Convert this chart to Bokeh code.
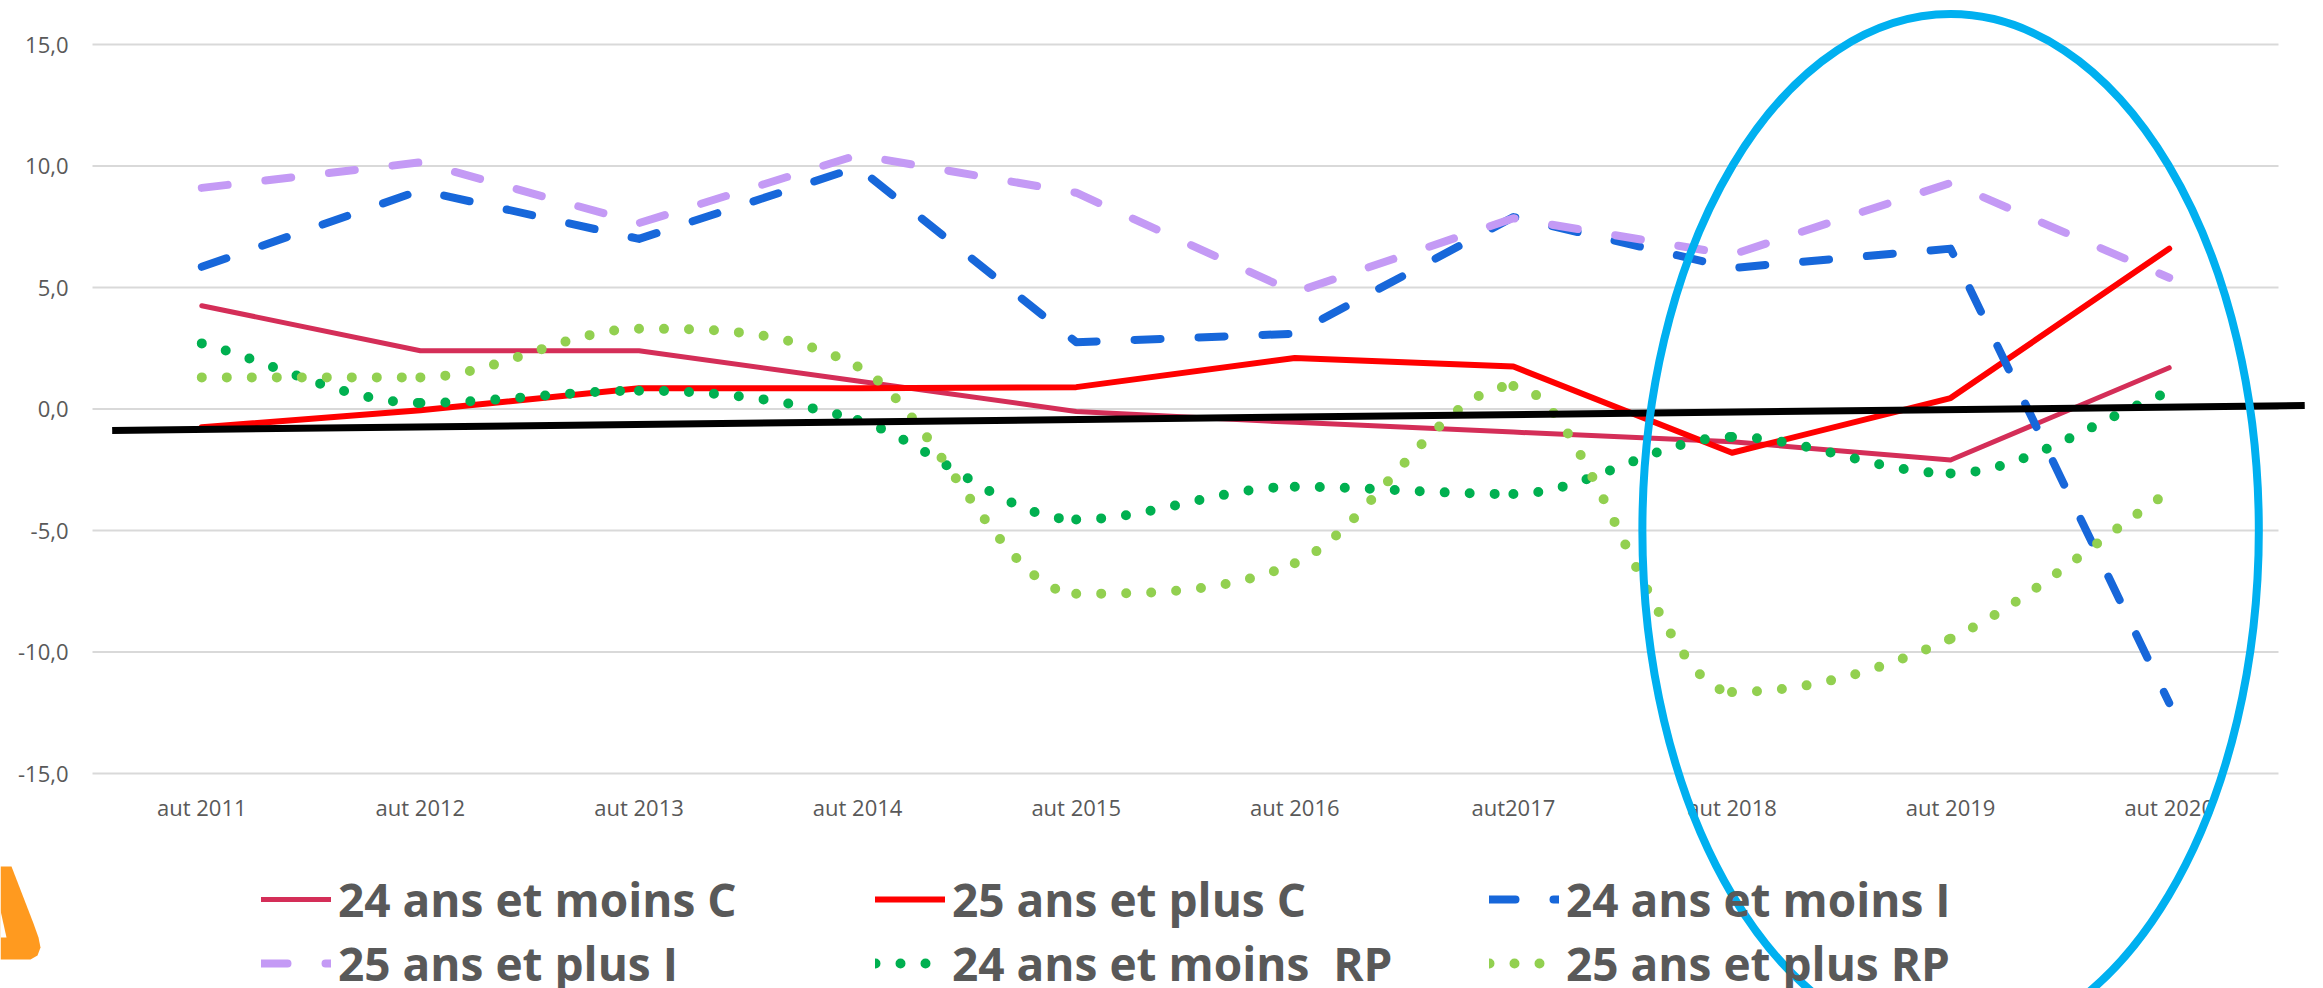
from bokeh.plotting import figure
from bokeh.models import (Range1d, FixedTicker, CustomJSTickFormatter,
                          Legend, LegendItem)
from bokeh.embed import file_html
from bokeh.resources import INLINE

# ---------------- data ----------------
categories = ["aut 2011", "aut 2012", "aut 2013", "aut 2014", "aut 2015",
              "aut 2016", "aut2017", "aut 2018", "aut 2019", "aut 2020"]
moins24_C = [4.25, 2.4, 2.4, 1.15, -0.1, -0.55, -0.95, -1.35, -2.1, 1.7]
plus25_C = [-0.75, -0.05, 0.85, 0.85, 0.9, 2.1, 1.75, -1.8, 0.45, 6.6]
moins24_I = [5.85, 9.0, 7.0, 9.95, 2.75, 3.1, 7.9, 5.8, 6.6, -12.1]
plus25_I = [9.1, 10.15, 7.65, 10.45, 8.9, 4.8, 7.85, 6.35, 9.3, 5.4]
moins24_RP = [2.7, 0.25, 0.75, -0.45, -4.55, -3.2, -3.5, -1.15, -2.65, 0.7]
plus25_RP = [1.3, 1.3, 3.3, 1.75, -7.6, -6.35, 0.95, -11.65, -9.45, -3.4]
trend_values = [-0.88, 0.14]
y_ticks = [-15, -10, -5, 0, 5, 10, 15]
labels = ["24 ans et moins C", "25 ans et plus C", "24 ans et moins I",
          "25 ans et plus I", "24 ans et moins  RP", "25 ans et plus RP"]

TXT = "#595959"
FONT = "Open Sans"
W, H = 2307, 988
PX_CAT = 218.6          # pixels per category
X0_PX = 92              # canvas x of the plot area's left edge
PX_UNIT = 24.3          # pixels per y unit
ZERO_PX = 408.5         # canvas y of value 0

xs = [i + 0.5 for i in range(len(categories))]
n_cat = len(categories)

p = figure(width=W, height=H,
           x_range=Range1d(-X0_PX / PX_CAT, (W - X0_PX) / PX_CAT),
           y_range=Range1d((ZERO_PX - H) / PX_UNIT, ZERO_PX / PX_UNIT),
           output_backend="svg", toolbar_location=None,
           min_border_left=0, min_border_right=0,
           min_border_top=0, min_border_bottom=0)
p.outline_line_color = None
p.background_fill_color = "white"
p.border_fill_color = "white"
p.xgrid.visible = False
p.ygrid.visible = False

# axes (placed inside the canvas at fixed locations)
p.xaxis.fixed_location = -15
p.xaxis.ticker = FixedTicker(ticks=xs)
p.xaxis.formatter = CustomJSTickFormatter(args=dict(labels=categories),
                                          code="return labels[Math.round(tick - 0.5)]")
p.xaxis.axis_line_color = None
p.xaxis.major_tick_line_color = None
p.xaxis.minor_tick_line_color = None
p.xaxis.major_label_text_font = FONT
p.xaxis.major_label_text_font_size = "22px"
p.xaxis.major_label_text_color = TXT
p.xaxis.major_label_standoff = 12

p.yaxis.fixed_location = 0
p.yaxis.ticker = FixedTicker(ticks=y_ticks)
p.yaxis.formatter = CustomJSTickFormatter(code="return tick.toFixed(1).replace('.', ',')")
p.yaxis.axis_line_color = None
p.yaxis.major_tick_line_color = None
p.yaxis.minor_tick_line_color = None
p.yaxis.major_tick_out = 0
p.yaxis.major_label_standoff = 24
p.yaxis.major_label_text_font = FONT
p.yaxis.major_label_text_font_size = "22px"
p.yaxis.major_label_text_color = TXT

# horizontal grid lines limited to the plot area
p.segment(x0=[0] * len(y_ticks), x1=[n_cat] * len(y_ticks), y0=y_ticks, y1=y_ticks,
          line_color="#D9D9D9", line_width=2, level="underlay")

# straight series
r1 = p.line(xs, moins24_C, line_color="#D42E58", line_width=5,
            line_cap="round", line_join="round")
r2 = p.line(xs, plus25_C, line_color="#FF0000", line_width=6,
            line_cap="round", line_join="round")
r3 = p.line(xs, moins24_I, line_color="#1767DA", line_width=8,
            line_dash="26 38", line_cap="round", line_join="round")
r4 = p.line(xs, plus25_I, line_color="#C49AF5", line_width=8,
            line_dash="26 38", line_cap="round", line_join="round")


# smoothed series: monotone cubic through the data points, drawn as Bezier segments
def smooth(vals):
    n = len(vals)
    d = [vals[k + 1] - vals[k] for k in range(n - 1)]
    m = [0.0] * n
    m[0], m[-1] = d[0], d[-1]
    for k in range(1, n - 1):
        m[k] = 0.0 if d[k - 1] * d[k] <= 0 else (d[k - 1] + d[k]) / 2
    for k in range(n - 1):
        if d[k] == 0:
            m[k] = m[k + 1] = 0.0
            continue
        a, b = m[k] / d[k], m[k + 1] / d[k]
        s = a * a + b * b
        if s > 9:
            t = 3 / s ** 0.5
            m[k], m[k + 1] = t * a * d[k], t * b * d[k]
    seg = dict(x0=[], y0=[], x1=[], y1=[], cx0=[], cy0=[], cx1=[], cy1=[])
    for k in range(n - 1):
        seg["x0"].append(xs[k]); seg["y0"].append(vals[k])
        seg["x1"].append(xs[k + 1]); seg["y1"].append(vals[k + 1])
        seg["cx0"].append(xs[k] + 1 / 3); seg["cy0"].append(vals[k] + m[k] / 3)
        seg["cx1"].append(xs[k + 1] - 1 / 3); seg["cy1"].append(vals[k + 1] - m[k + 1] / 3)
    return seg


r5 = p.bezier(**smooth(moins24_RP), line_color="#00B050", line_width=10,
              line_dash="0 25", line_cap="round")
r6 = p.bezier(**smooth(plus25_RP), line_color="#92D050", line_width=10,
              line_dash="0 25", line_cap="round")

# trend line (slightly overhanging the plot area on the right)
p.line([0.09, 10.12], trend_values, line_color="black", line_width=7)

# highlight ellipse around the last years
p.ellipse(x=[xs[8]], y=[-5], width=2.82, height=42.5,
          fill_color=None, line_color="#00B0F0", line_width=8, level="overlay")


# partial warning sign at the lower-left edge (pixel outline converted to data units)
def px(xp, yp):
    return ([(v - X0_PX) / PX_CAT for v in xp], [(ZERO_PX - v) / PX_UNIT for v in yp])


tx, ty = px([0, 11, 33, 38, 40, 37, 30, 0], [866, 866, 923, 937, 947, 955, 959, 959])
p.patch(tx, ty, fill_color="#FF9A1F", line_color=None)
hx, hy = px([0, 6, 0], [910, 937, 937])
p.patch(hx, hy, fill_color="white", line_color=None)

legend = Legend(items=[LegendItem(label=l, renderers=[r])
                       for l, r in zip(labels, [r1, r2, r3, r4, r5, r6])],
                location=(261, -7), orientation="horizontal", ncols=3,
                glyph_width=70, glyph_height=20, label_standoff=7,
                label_width=537, label_height=64, spacing=0, padding=0, margin=0,
                border_line_color=None, background_fill_alpha=0,
                label_text_font=FONT, label_text_font_style="bold",
                label_text_font_size="46px", label_text_color=TXT)
p.add_layout(legend)

open("out.html", "w").write(file_html(p, INLINE))
